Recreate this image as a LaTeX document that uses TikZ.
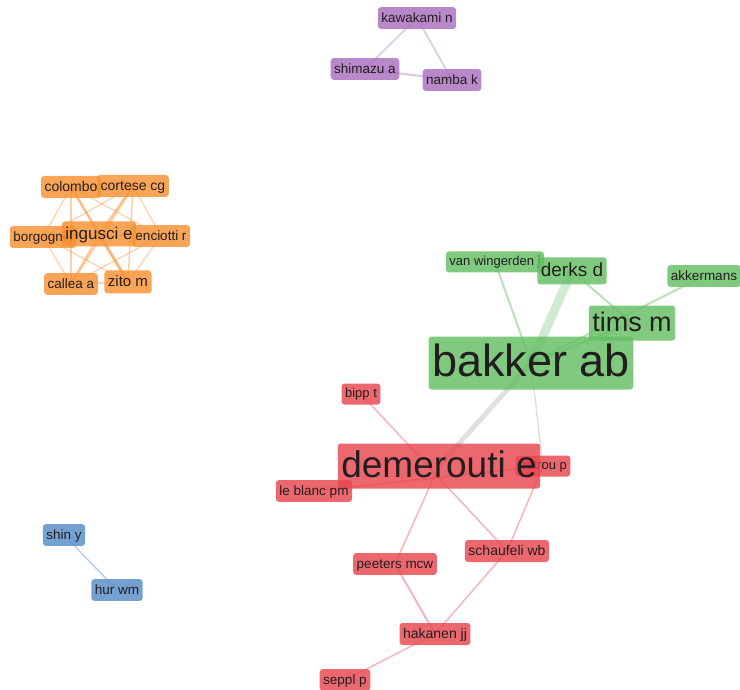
\documentclass[tikz,border=0pt]{standalone}
\usepackage{fontspec}
\setmainfont{Liberation Sans}
\pgfdeclarelayer{bg}
\pgfsetlayers{bg,main}
\definecolor{cgreen}{RGB}{100,190,100}
\definecolor{cred}{RGB}{232,70,78}
\definecolor{corange}{RGB}{246,145,50}
\definecolor{cpurple}{RGB}{170,110,190}
\definecolor{cblue}{RGB}{85,140,200}
\definecolor{ctext}{RGB}{35,30,30}
\tikzset{
  box/.style={rounded corners=3pt, inner xsep=3.5pt, inner ysep=4pt,
    text height=11pt, text depth=2.8pt, fill opacity=0.82, text opacity=1,
    text=ctext, font=\fontsize{13.5}{14}\selectfont},
  fs/.style={font=\fontsize{#1}{#1}\selectfont, text height={0.8*#1pt}, text depth={0.2*#1pt}},
  gbox/.style={box, fill=cgreen},
  rbox/.style={box, fill=cred},
  obox/.style={box, fill=corange},
  pbox/.style={box, fill=cpurple},
  bbox/.style={box, fill=cblue},
  gedge/.style={draw=cgreen, draw opacity=0.45, line width=#1},
  redge/.style={draw=cred, draw opacity=0.4, line width=#1},
  oedge/.style={draw=corange, draw opacity=0.42, line width=#1},
  pedge/.style={draw=cpurple, draw opacity=0.4, line width=#1},
  bedge/.style={draw=cblue, draw opacity=0.4, line width=#1},
  xedge/.style={draw=black!40, draw opacity=0.3, line width=#1},
}
\begin{document}
\begin{tikzpicture}[x=1pt,y=-1pt]
\useasboundingbox (0,0) rectangle (740,690);
% purple
\node[pbox] (kaw) at (417,18) {kawakami n};
\node[pbox] (shim) at (365,69) {shimazu a};
\node[pbox] (namba) at (452,80) {namba k};
% orange
\node[obox, fs=14] (col) at (71,187) {colombo};
\node[obox, fs=14] (cor) at (133,186) {cortese cg};
\node[obox] (bor) at (43,237) {borgogni l};
\node[obox] (enc) at (161,236) {enciotti r};
\node[obox, fs=17] (ing) at (99,234) {ingusci e};
\node[obox] (cal) at (71,284) {callea a};
\node[obox, fs=15] (zit) at (128,282) {zito m};
% green
\node[gbox, fs=13] (vanw) at (495,262) {van wingerden j};
\node[gbox, fs=19] (derks) at (572,271) {derks d};
\node[gbox] (akk) at (704,276) {akkermans};
\node[gbox, fs=27] (tims) at (632,323) {tims m};
\node[gbox, fs=45] (bakker) at (531,363) {bakker ab};
% red
\node[rbox, fs=13] (bipp) at (361,394) {bipp t};
\node[rbox, fs=13] (petrou) at (543,466) {petrou p};
\node[rbox, fs=37] (dem) at (439,466) {demerouti e};
\node[rbox] (leb) at (314,491) {le blanc pm};
\node[rbox, fs=14] (sch) at (507,551) {schaufeli wb};
\node[rbox] (pee) at (395,564) {peeters mcw};
\node[rbox, fs=14] (hak) at (435,634) {hakanen jj};
\node[rbox] (sep) at (345,680) {seppl p};
% blue
\node[bbox] (shin) at (64,535) {shin y};
\node[bbox] (hur) at (117,590) {hur wm};

\begin{pgfonlayer}{bg}
% purple edges
\draw[pedge=1.5] (kaw.center) -- (shim.center);
\draw[pedge=1.5] (kaw.center) -- (namba.center);
\draw[pedge=2] (shim.center) -- (namba.center);
% blue
\draw[bedge=1.5] (shin.center) -- (hur.center);
% orange clique
\draw[oedge=2.5] (col.center) -- (zit.center);
\draw[oedge=2.5] (cor.center) -- (cal.center);
\draw[oedge=3] (ing.center) -- (zit.center);
\draw[oedge=2] (ing.center) -- (cor.center);
\draw[oedge=1.5] (col.center) -- (cor.center);
\draw[oedge=1.5] (col.center) -- (ing.center);
\draw[oedge=1.2] (col.center) -- (bor.center);
\draw[oedge=1.2] (col.center) -- (enc.center);
\draw[oedge=1.5] (col.center) -- (cal.center);
\draw[oedge=1.2] (cor.center) -- (bor.center);
\draw[oedge=1.2] (cor.center) -- (enc.center);
\draw[oedge=1.5] (cor.center) -- (zit.center);
\draw[oedge=1.5] (ing.center) -- (bor.center);
\draw[oedge=1.5] (ing.center) -- (enc.center);
\draw[oedge=1.5] (ing.center) -- (cal.center);
\draw[oedge=1.2] (bor.center) -- (enc.center);
\draw[oedge=1.2] (bor.center) -- (cal.center);
\draw[oedge=1.2] (bor.center) -- (zit.center);
\draw[oedge=1.2] (enc.center) -- (cal.center);
\draw[oedge=1.2] (enc.center) -- (zit.center);
\draw[oedge=1.5] (cal.center) -- (zit.center);
% green
\draw[gedge=9, draw opacity=0.3] (bakker.center) -- (derks.center);
\draw[gedge=2.5] (bakker.center) -- (tims.center);
\draw[gedge=2] (bakker.center) -- (vanw.center);
\draw[gedge=2] (derks.center) -- (tims.center);
\draw[gedge=2] (bakker.center) -- (akk.center);
% grey inter-cluster
\draw[xedge=5] (bakker.center) -- (dem.center);
\draw[xedge=1.5] (bakker.center) -- (petrou.center);
% red
\draw[redge=1.5] (bipp.center) -- (sch.center);
\draw[redge=1.5] (dem.center) -- (pee.center);
\draw[redge=2] (leb.center) -- (petrou.center);
\draw[redge=1.5] (petrou.center) -- (sch.center);
\draw[redge=1.5] (sch.center) -- (hak.center);
\draw[redge=2] (pee.center) -- (hak.center);
\draw[redge=1.5] (hak.center) -- (sep.center);
\end{pgfonlayer}
\end{tikzpicture}
\end{document}
